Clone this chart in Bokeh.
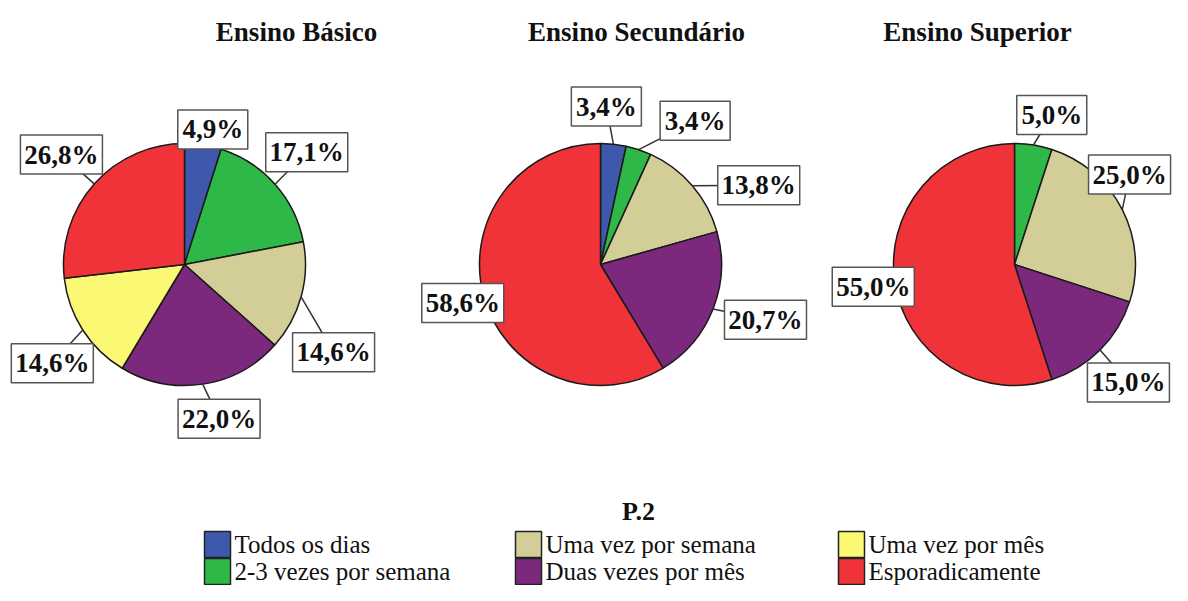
import math
from bokeh.plotting import figure
from bokeh.models import Range1d, ColumnDataSource
from bokeh.core.properties import value
from bokeh.embed import file_html
from bokeh.resources import INLINE

# ---------------- data ----------------
categories = ["Todos os dias", "2-3 vezes por semana", "Uma vez por semana",
              "Duas vezes por mês", "Uma vez por mês", "Esporadicamente"]
colors = ["#3E58AC", "#2EB848", "#D3CE97", "#7C287D", "#FBF873", "#EF3338"]
panel_titles = ["Ensino Básico", "Ensino Secundário", "Ensino Superior"]
basico = [4.9, 17.1, 14.6, 22.0, 14.6, 26.8]
secundario = [3.4, 3.4, 13.8, 20.7, 0.0, 58.6]
superior = [0.0, 5.0, 25.0, 15.0, 0.0, 55.0]
legend_title = "P.2"

# ---------------- layout ----------------
W, H = 1172, 585
TOP = 601
def Y(img_y):
    return TOP - img_y

pie_cx = [184, 600, 1014]
pie_cy = 264
pie_r = 121
title_x = [296, 636, 977]
title_y = 31
# label placement nudges (degrees added to slice mid-angle, radius of label centre)
label_shift = [
    [3, -1, 15, -4, -4, 0],
    [-4, 15, 14, -3, 0, 0],
    [0, 5, -11, 1, 0, 0],
]
label_rad = [
    [138, 166, 173, 158, 165, 165],
    [158, 172, 177, 174, 0, 143],
    [0, 154, 146, 164, 0, 143],
]
legend_title_y = 511
legend_cols_x = [204, 515, 838]
legend_rows_y = [544, 571]
legend_sq = 26

FONT = value("Liberation Serif")

p = figure(width=W, height=H, output_backend="svg", toolbar_location=None,
           x_range=Range1d(0, W), y_range=Range1d(TOP - H, TOP),
           min_border=0, outline_line_color=None)
p.axis.visible = False
p.grid.visible = False
p.background_fill_color = "white"
p.border_fill_color = "white"

series = [basico, secundario, superior]

for k, vals in enumerate(series):
    tot = sum(vals)
    cx, cy = pie_cx[k], Y(pie_cy)
    xs, ys, sa, ea, cols = [], [], [], [], []
    seg = dict(x0=[], y0=[], x1=[], y1=[])
    lab = dict(x=[], y=[], text=[], w=[])
    cum = 0.0
    for i, v in enumerate(vals):
        if v <= 0:
            continue
        a0 = cum / tot
        a1 = (cum + v) / tot
        cum += v
        xs.append(cx); ys.append(cy)
        sa.append(math.pi / 2 - 2 * math.pi * a0)
        ea.append(math.pi / 2 - 2 * math.pi * a1)
        cols.append(colors[i])
        mid = (a0 + a1) / 2 * 360.0
        ang = math.radians(mid)
        lang = math.radians(mid + label_shift[k][i])
        lr = label_rad[k][i]
        lx = cx + lr * math.sin(lang)
        ly = cy + lr * math.cos(lang)
        seg["x0"].append(cx + pie_r * math.sin(ang))
        seg["y0"].append(cy + pie_r * math.cos(ang))
        seg["x1"].append(lx)
        seg["y1"].append(ly)
        txt = ("%.1f%%" % v).replace(".", ",")
        lab["x"].append(lx); lab["y"].append(ly); lab["text"].append(txt)
        lab["w"].append(12 * len(txt) + 22)
    p.wedge(x=xs, y=ys, radius=pie_r, start_angle=sa, end_angle=ea,
            direction="clock", fill_color=cols, line_color="#1a1a1a", line_width=1.5)
    p.segment(x0="x0", y0="y0", x1="x1", y1="y1", source=ColumnDataSource(seg),
              line_color="#333333", line_width=1.5)
    src = ColumnDataSource(lab)
    p.rect(x="x", y="y", width="w", height=39, source=src, fill_color="white",
           line_color="#555555", line_width=1.5)
    p.text(x="x", y="y", text="text", source=src, text_font=FONT,
           text_font_size="27px", text_font_style="bold", text_align="center",
           text_baseline="middle", text_color="#111111")
    p.text(x=[title_x[k]], y=[Y(title_y)], text=[panel_titles[k]], text_font=FONT,
           text_font_size="27px", text_font_style="bold", text_align="center",
           text_baseline="middle", text_color="#111111")

# legend
p.text(x=[638], y=[Y(legend_title_y)], text=[legend_title], text_font=FONT,
       text_font_size="26px", text_font_style="bold", text_align="center",
       text_baseline="middle", text_color="#111111")
lx, ly, lt, lc = [], [], [], []
for i, c in enumerate(categories):
    col = i // 2
    row = i % 2
    lx.append(legend_cols_x[col]); ly.append(Y(legend_rows_y[row])); lt.append(c); lc.append(colors[i])
p.rect(x=[x + legend_sq / 2 for x in lx], y=ly, width=legend_sq, height=legend_sq,
       fill_color=lc, line_color="#222222", line_width=1.5)
p.text(x=[x + legend_sq + 4 for x in lx], y=ly, text=lt, text_font=FONT,
       text_font_size="25px", text_align="left", text_baseline="middle",
       text_color="#111111")

open("out.html", "w").write(file_html(p, INLINE))
